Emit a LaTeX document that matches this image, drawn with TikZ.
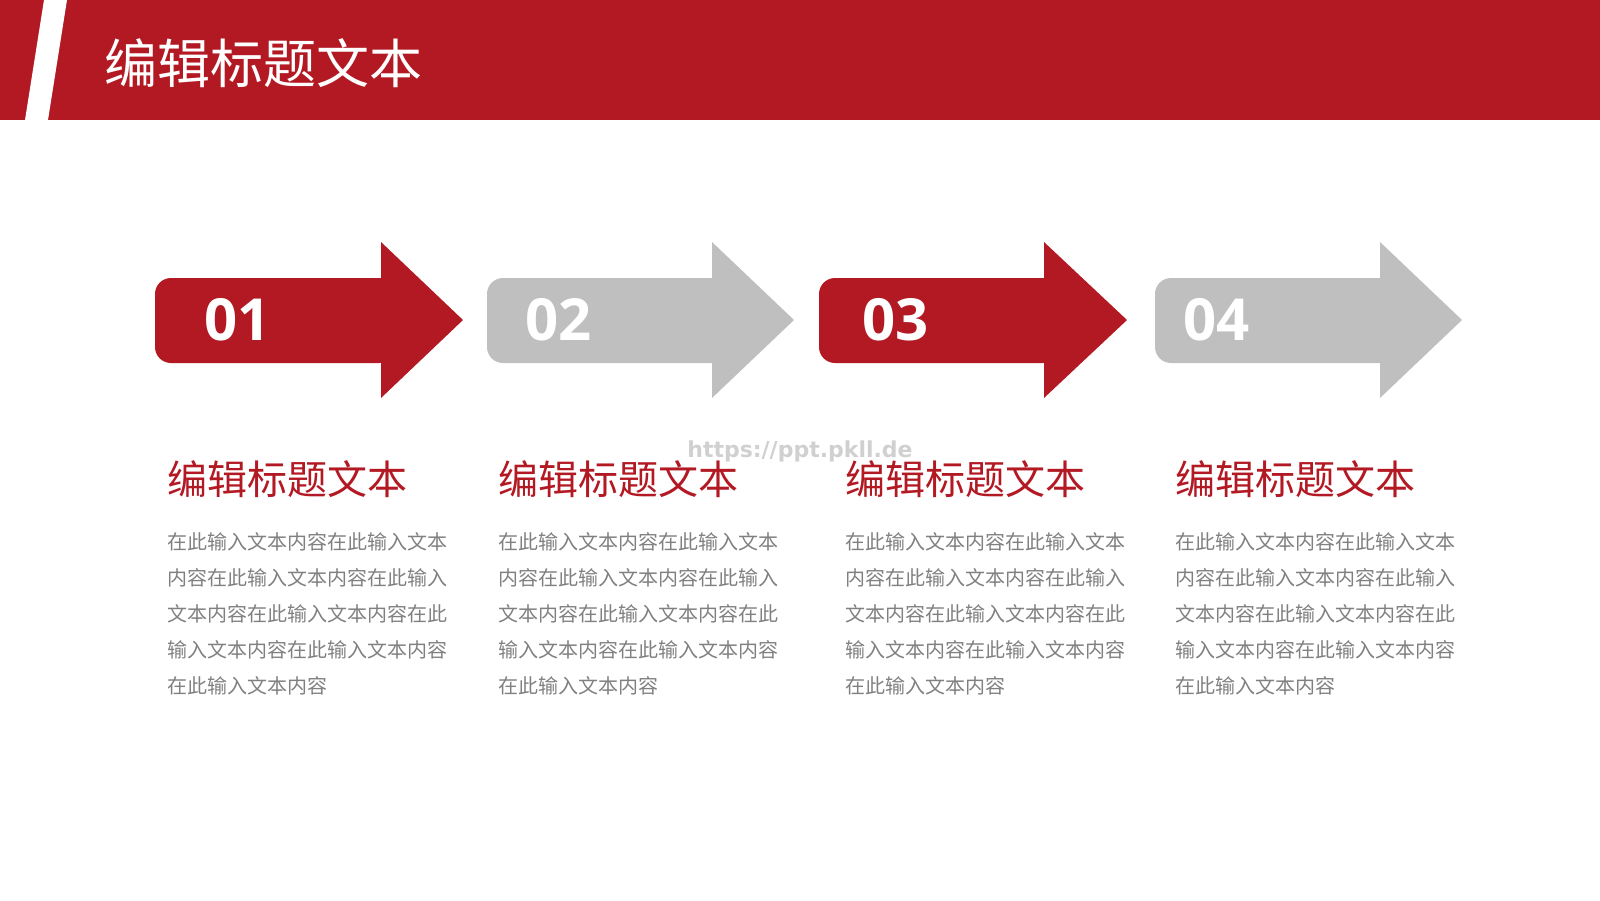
\documentclass[tikz,border=0pt]{standalone}
\usepackage{fontspec}
\usepackage{xcolor}
\usepackage{tikz}
\usetikzlibrary{positioning}
\newfontfamily\cjk{Noto Sans CJK SC}
\newfontfamily\numfont{Open Sans}
\newfontfamily\webfont{DejaVu Sans}
\definecolor{slRed}{RGB}{179, 25, 35}
\definecolor{slGray}{RGB}{191, 191, 191}
\definecolor{slText}{RGB}{128, 128, 128}
\definecolor{slMark}{RGB}{208, 208, 208}
\newcommand{\fillertext}{在此输入文本内容在此输入文本\\内容在此输入文本内容在此输入\\文本内容在此输入文本内容在此\\输入文本内容在此输入文本内容\\在此输入文本内容}
\tikzset{
    heading/.style={
        font=\cjk\fontsize{53}{60}\selectfont,
        text=white,
        anchor=base west,
        inner sep=0pt
    },
    number/.style={
        font=\numfont\bfseries\fontsize{58}{60}\selectfont,
        text=white,
        anchor=base west,
        inner sep=0pt
    },
    subtitle/.style={
        font=\cjk\fontsize{40}{46}\selectfont,
        text=slRed,
        anchor=base west,
        inner sep=0pt
    },
    filler/.style={
        font=\cjk\fontsize{20}{36}\selectfont,
        text=slText,
        anchor=north west,
        align=left,
        inner sep=0pt
    },
    watermark/.style={
        font=\webfont\bfseries\fontsize{22}{26}\selectfont,
        text=slMark,
        anchor=base,
        inner sep=0pt
    },
    redArrow/.style={fill=slRed},
    grayArrow/.style={fill=slGray}
}

\begin{document}
\begin{tikzpicture}[x=1pt, y=-1pt]
  \useasboundingbox (0,0) rectangle (1600,900);

  % Header band
  \fill[slRed] (0,0) rectangle (1600,120);
  \fill[white] (44,0) -- (67,0) -- (48,120) -- (25,120) -- cycle;
  \node[heading] (title) at (104,83) {编辑标题文本};

  % Arrows
  \fill[redArrow, rounded corners=16pt] (155,278) rectangle (395,363);
  \fill[redArrow] (381,242) -- (463,320) -- (381,398) -- cycle;
  \fill[grayArrow, rounded corners=16pt] (487,278) rectangle (727,363);
  \fill[grayArrow] (712,242) -- (794,320) -- (712,398) -- cycle;
  \fill[redArrow, rounded corners=16pt] (819,278) rectangle (1059,363);
  \fill[redArrow] (1044,242) -- (1127,320) -- (1044,398) -- cycle;
  \fill[grayArrow, rounded corners=16pt] (1155,278) rectangle (1395,363);
  \fill[grayArrow] (1380,242) -- (1462,320) -- (1380,398) -- cycle;

  \node[number] (n1) at (204,340) {01};
  \node[number] (n2) at (525,340) {02};
  \node[number] (n3) at (862,340) {03};
  \node[number] (n4) at (1183,340) {04};

  % Columns
  \node[subtitle] (s1) at (167,494) {编辑标题文本};
  \node[subtitle] (s2) at (498,494) {编辑标题文本};
  \node[subtitle] (s3) at (845,494) {编辑标题文本};
  \node[subtitle] (s4) at (1175,494) {编辑标题文本};

  \node[filler] (t1) at (167,532.5) {\fillertext};
  \node[filler] (t2) at (498,532.5) {\fillertext};
  \node[filler] (t3) at (845,532.5) {\fillertext};
  \node[filler] (t4) at (1175,532.5) {\fillertext};

  \node[watermark] (url) at (800,457) {https://ppt.pkll.de};
\end{tikzpicture}
\end{document}
